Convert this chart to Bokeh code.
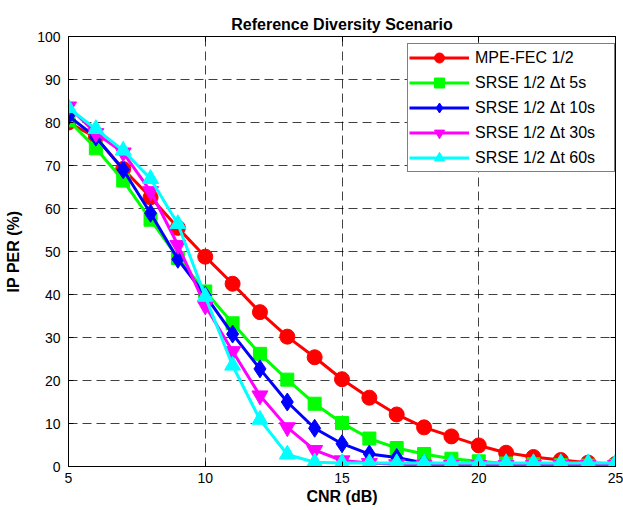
from bokeh.plotting import figure
from bokeh.models import Range1d, LinearAxis, FixedTicker, CustomJSTickFormatter, Legend, LegendItem
from bokeh.embed import file_html
from bokeh.resources import INLINE

cnr = [5, 6, 7, 8, 9, 10, 11, 12, 13, 14, 15, 16, 17, 18, 19, 20, 21, 22, 23, 24, 25]
mpe_fec = [80.0, 76.5, 69.2, 62.6, 55.5, 48.8, 42.5, 35.9, 30.2, 25.4, 20.3, 16.0, 12.1, 9.1, 7.0, 4.9, 3.2, 2.2, 1.5, 0.9, 0.6]
srse_5s = [80.5, 74.0, 66.5, 57.4, 48.5, 40.7, 33.3, 26.2, 20.2, 14.6, 10.1, 6.5, 4.3, 2.9, 1.8, 1.2, 0.7, 0.5, 0.3, 0.2, 0.2]
srse_10s = [81.5, 76.6, 69.0, 58.9, 48.2, 39.8, 30.8, 22.7, 15.0, 8.9, 5.3, 2.9, 2.1, 0.8, 0.5, 0.3, 0.2, 0.2, 0.2, 0.2, 0.2]
srse_30s = [83.7, 77.5, 73.0, 64.0, 51.5, 37.4, 26.8, 16.5, 9.1, 3.8, 1.4, 0.8, 0.5, 0.4, 0.3, 0.3, 0.3, 0.3, 0.3, 0.3, 0.3]
srse_60s = [83.4, 78.5, 73.5, 66.9, 56.4, 39.5, 23.5, 10.9, 2.8, 1.0, 0.8, 0.8, 0.8, 0.8, 0.8, 0.8, 0.8, 0.8, 0.8, 0.8, 0.8]

labels = ["MPE-FEC 1/2", "SRSE 1/2 \u0394t 5s", "SRSE 1/2 \u0394t 10s", "SRSE 1/2 \u0394t 30s", "SRSE 1/2 \u0394t 60s"]
series = [mpe_fec, srse_5s, srse_10s, srse_30s, srse_60s]
colors = ["#FF0000", "#00FF00", "#0000FF", "#FF00FF", "#00FFFF"]
markers = ["circle", "square", "diamond", "inverted_triangle", "triangle"]
sizes = [15, 13, 18, 16, 16]

x_ticks = [5, 10, 15, 20, 25]
y_ticks = [0, 10, 20, 30, 40, 50, 60, 70, 80, 90, 100]

FONT = "Liberation Sans"

p = figure(width=623, height=510, output_backend="svg", toolbar_location=None,
           x_range=Range1d(5, 25), y_range=Range1d(0, 100),
           min_border_left=68, min_border_right=8, min_border_top=36, min_border_bottom=44)

p.title.text = "Reference Diversity Scenario"
p.title.align = "center"
p.title.text_font = FONT
p.title.text_font_size = "16px"
p.title.text_font_style = "bold"
p.title.text_color = "black"
p.title.standoff = 8

p.outline_line_color = "black"
p.outline_line_width = 1
p.background_fill_color = "white"
p.border_fill_color = "white"

for ax in (p.xaxis[0], p.yaxis[0]):
    ax.major_label_text_font = FONT
    ax.major_label_text_font_size = "14px"
    ax.major_label_text_color = "black"
    ax.axis_label_text_font = FONT
    ax.axis_label_text_font_size = "16px"
    ax.axis_label_text_font_style = "bold"
    ax.axis_label_text_color = "black"
    ax.major_tick_in = 5
    ax.major_tick_out = 0
    ax.minor_tick_in = 0
    ax.minor_tick_out = 0
    ax.axis_line_color = "black"
    ax.major_tick_line_color = "black"

p.xaxis.ticker = FixedTicker(ticks=x_ticks)
p.yaxis.ticker = FixedTicker(ticks=y_ticks)
p.xaxis.axis_label = "CNR (dB)"
p.yaxis.axis_label = "IP PER (%)"
p.xaxis.major_label_standoff = 6
p.yaxis.major_label_standoff = 8
p.xaxis.axis_label_standoff = 2
p.yaxis.axis_label_standoff = 12

empty = CustomJSTickFormatter(code="return ''")
top_ax = LinearAxis(ticker=FixedTicker(ticks=x_ticks), formatter=empty, major_tick_in=5, major_tick_out=0,
                    minor_tick_in=0, minor_tick_out=0, major_label_standoff=0, axis_line_color="black",
                    major_label_text_font_size="0px")
right_ax = LinearAxis(ticker=FixedTicker(ticks=y_ticks), formatter=empty, major_tick_in=5, major_tick_out=0,
                      minor_tick_in=0, minor_tick_out=0, major_label_standoff=0, axis_line_color="black",
                      major_label_text_font_size="0px")
p.add_layout(top_ax, "above")
p.add_layout(right_ax, "right")

p.xgrid.ticker = FixedTicker(ticks=x_ticks)
p.ygrid.ticker = FixedTicker(ticks=y_ticks)
for g in (p.xgrid[0], p.ygrid[0]):
    g.grid_line_color = "black"
    g.grid_line_alpha = 0.75
    g.grid_line_dash = "9 5"
    g.grid_line_width = 1

items = []
for lab, ys, c, m, s in zip(labels, series, colors, markers, sizes):
    r1 = p.line(cnr, ys, line_color=c, line_width=3)
    r2 = p.scatter(cnr, ys, marker=m, size=s, fill_color=c, line_color=c)
    items.append(LegendItem(label=lab, renderers=[r1, r2]))

legend = Legend(items=items, location=(339, 294))
legend.label_text_font = FONT
legend.label_text_font_size = "16px"
legend.label_text_color = "black"
legend.glyph_width = 60
legend.glyph_height = 25
legend.label_height = 25
legend.label_width = 138
legend.label_standoff = 6
legend.spacing = 0
legend.padding = 1
legend.margin = 0
legend.border_line_color = "black"
legend.border_line_width = 1
legend.background_fill_color = "white"
legend.background_fill_alpha = 1
p.add_layout(legend, "center")

open("out.html", "w").write(file_html(p, INLINE))
